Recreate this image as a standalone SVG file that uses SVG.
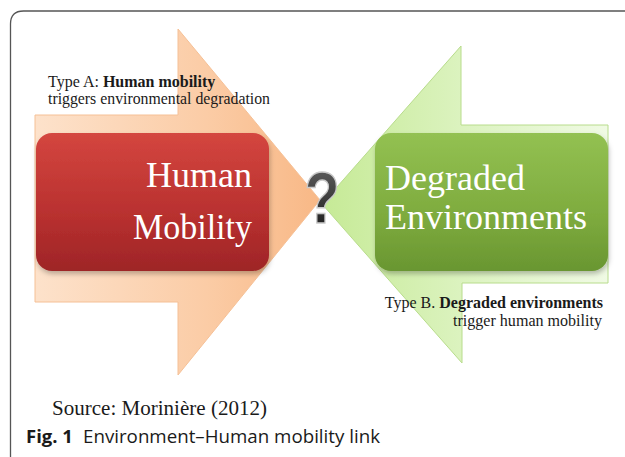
<svg xmlns="http://www.w3.org/2000/svg" width="625" height="457" viewBox="0 0 625 457">
<defs>
<linearGradient id="gOrange" x1="0" y1="0" x2="1" y2="0">
<stop offset="0" stop-color="#fde2cb"/>
<stop offset="0.6" stop-color="#fbcca6"/>
<stop offset="1" stop-color="#f8b886"/>
</linearGradient>
<linearGradient id="gGreen" x1="0" y1="0" x2="1" y2="0">
<stop offset="0" stop-color="#c6ea96"/>
<stop offset="0.5" stop-color="#dcf3c0"/>
<stop offset="1" stop-color="#f0fae4"/>
</linearGradient>
<linearGradient id="gRed" x1="0" y1="0" x2="0" y2="1">
<stop offset="0" stop-color="#d4463f"/>
<stop offset="0.6" stop-color="#b8302f"/>
<stop offset="1" stop-color="#9e2527"/>
</linearGradient>
<linearGradient id="gLeaf" x1="0" y1="0" x2="0" y2="1">
<stop offset="0" stop-color="#93c152"/>
<stop offset="0.6" stop-color="#7eab3e"/>
<stop offset="1" stop-color="#699631"/>
</linearGradient>
<linearGradient id="gQ" x1="0" y1="0" x2="0" y2="1">
<stop offset="0" stop-color="#666666"/>
<stop offset="1" stop-color="#141414"/>
</linearGradient>
<filter id="shadow" x="-10%" y="-10%" width="125%" height="130%">
<feDropShadow dx="1" dy="3" stdDeviation="2.5" flood-color="#000" flood-opacity="0.25"/>
</filter>
</defs>
<style>
.serif{font-family:"Liberation Serif","Times New Roman",serif}
.big{font-size:36px;fill:#ffffff}
.lbl{font-size:16px;fill:#1a1a1a}
.b{font-weight:bold}
.cap{font-family:"Open Sans","Noto Sans","Liberation Sans",sans-serif;font-size:18.5px;fill:#1a1a1a}
</style>
<rect width="625" height="457" fill="#ffffff"/>
<g id="frame">
<path d="M10.5 457 V24 Q10.5 11 23.5 11 H625" fill="none" stroke="#555555" stroke-width="1.3"/>
</g>
<g id="arrow-a">
<path d="M35 115 H178 V29 L320 200 L178 375 V302 H35 Z" fill="url(#gOrange)" stroke="#f5c096" stroke-width="1"/>
</g>
<g id="arrow-b">
<path d="M608 125 H461 V46 L322 204 L462 363 V283 H608 Z" fill="url(#gGreen)" stroke="#b8dc8c" stroke-width="1"/>
</g>
<g id="box-human">
<rect x="36" y="133" width="233" height="138" rx="16" fill="url(#gRed)" filter="url(#shadow)"/>
<text class="serif big" x="252" y="187" text-anchor="end">Human</text>
<text class="serif big" x="252" y="239" text-anchor="end" textLength="119" lengthAdjust="spacingAndGlyphs">Mobility</text>
</g>
<g id="box-degraded">
<rect x="375" y="133" width="233" height="138" rx="16" fill="url(#gLeaf)" filter="url(#shadow)"/>
<text class="serif big" x="385" y="190">Degraded</text>
<text class="serif big" x="385" y="229">Environments</text>
</g>
<g id="question">
<text x="0" y="0" transform="translate(322 223) scale(0.8 1)" text-anchor="middle" font-family="Liberation Sans, Arial, sans-serif" font-weight="bold" font-size="72" fill="url(#gQ)" stroke="#c8c8c8" stroke-width="1.5">?</text>
</g>
<g id="label-a">
<text class="serif lbl" x="48" y="87">Type A: <tspan class="b">Human mobility</tspan></text>
<text class="serif lbl" x="48" y="104" textLength="222" lengthAdjust="spacingAndGlyphs">triggers environmental degradation</text>
</g>
<g id="label-b">
<text class="serif lbl" x="603" y="308" text-anchor="end">Type B. <tspan class="b">Degraded environments</tspan></text>
<text class="serif lbl" x="453" y="326" textLength="149" lengthAdjust="spacingAndGlyphs">trigger human mobility</text>
</g>
<g id="source">
<text class="serif" x="52" y="415" font-size="20" fill="#1a1a1a" textLength="215" lengthAdjust="spacingAndGlyphs">Source: Morinière (2012)</text>
</g>
<g id="caption">
<text class="cap" x="26" y="443"><tspan font-weight="bold">Fig. 1</tspan><tspan x="83" textLength="297" lengthAdjust="spacingAndGlyphs">Environment–Human mobility link</tspan></text>
</g>
</svg>
